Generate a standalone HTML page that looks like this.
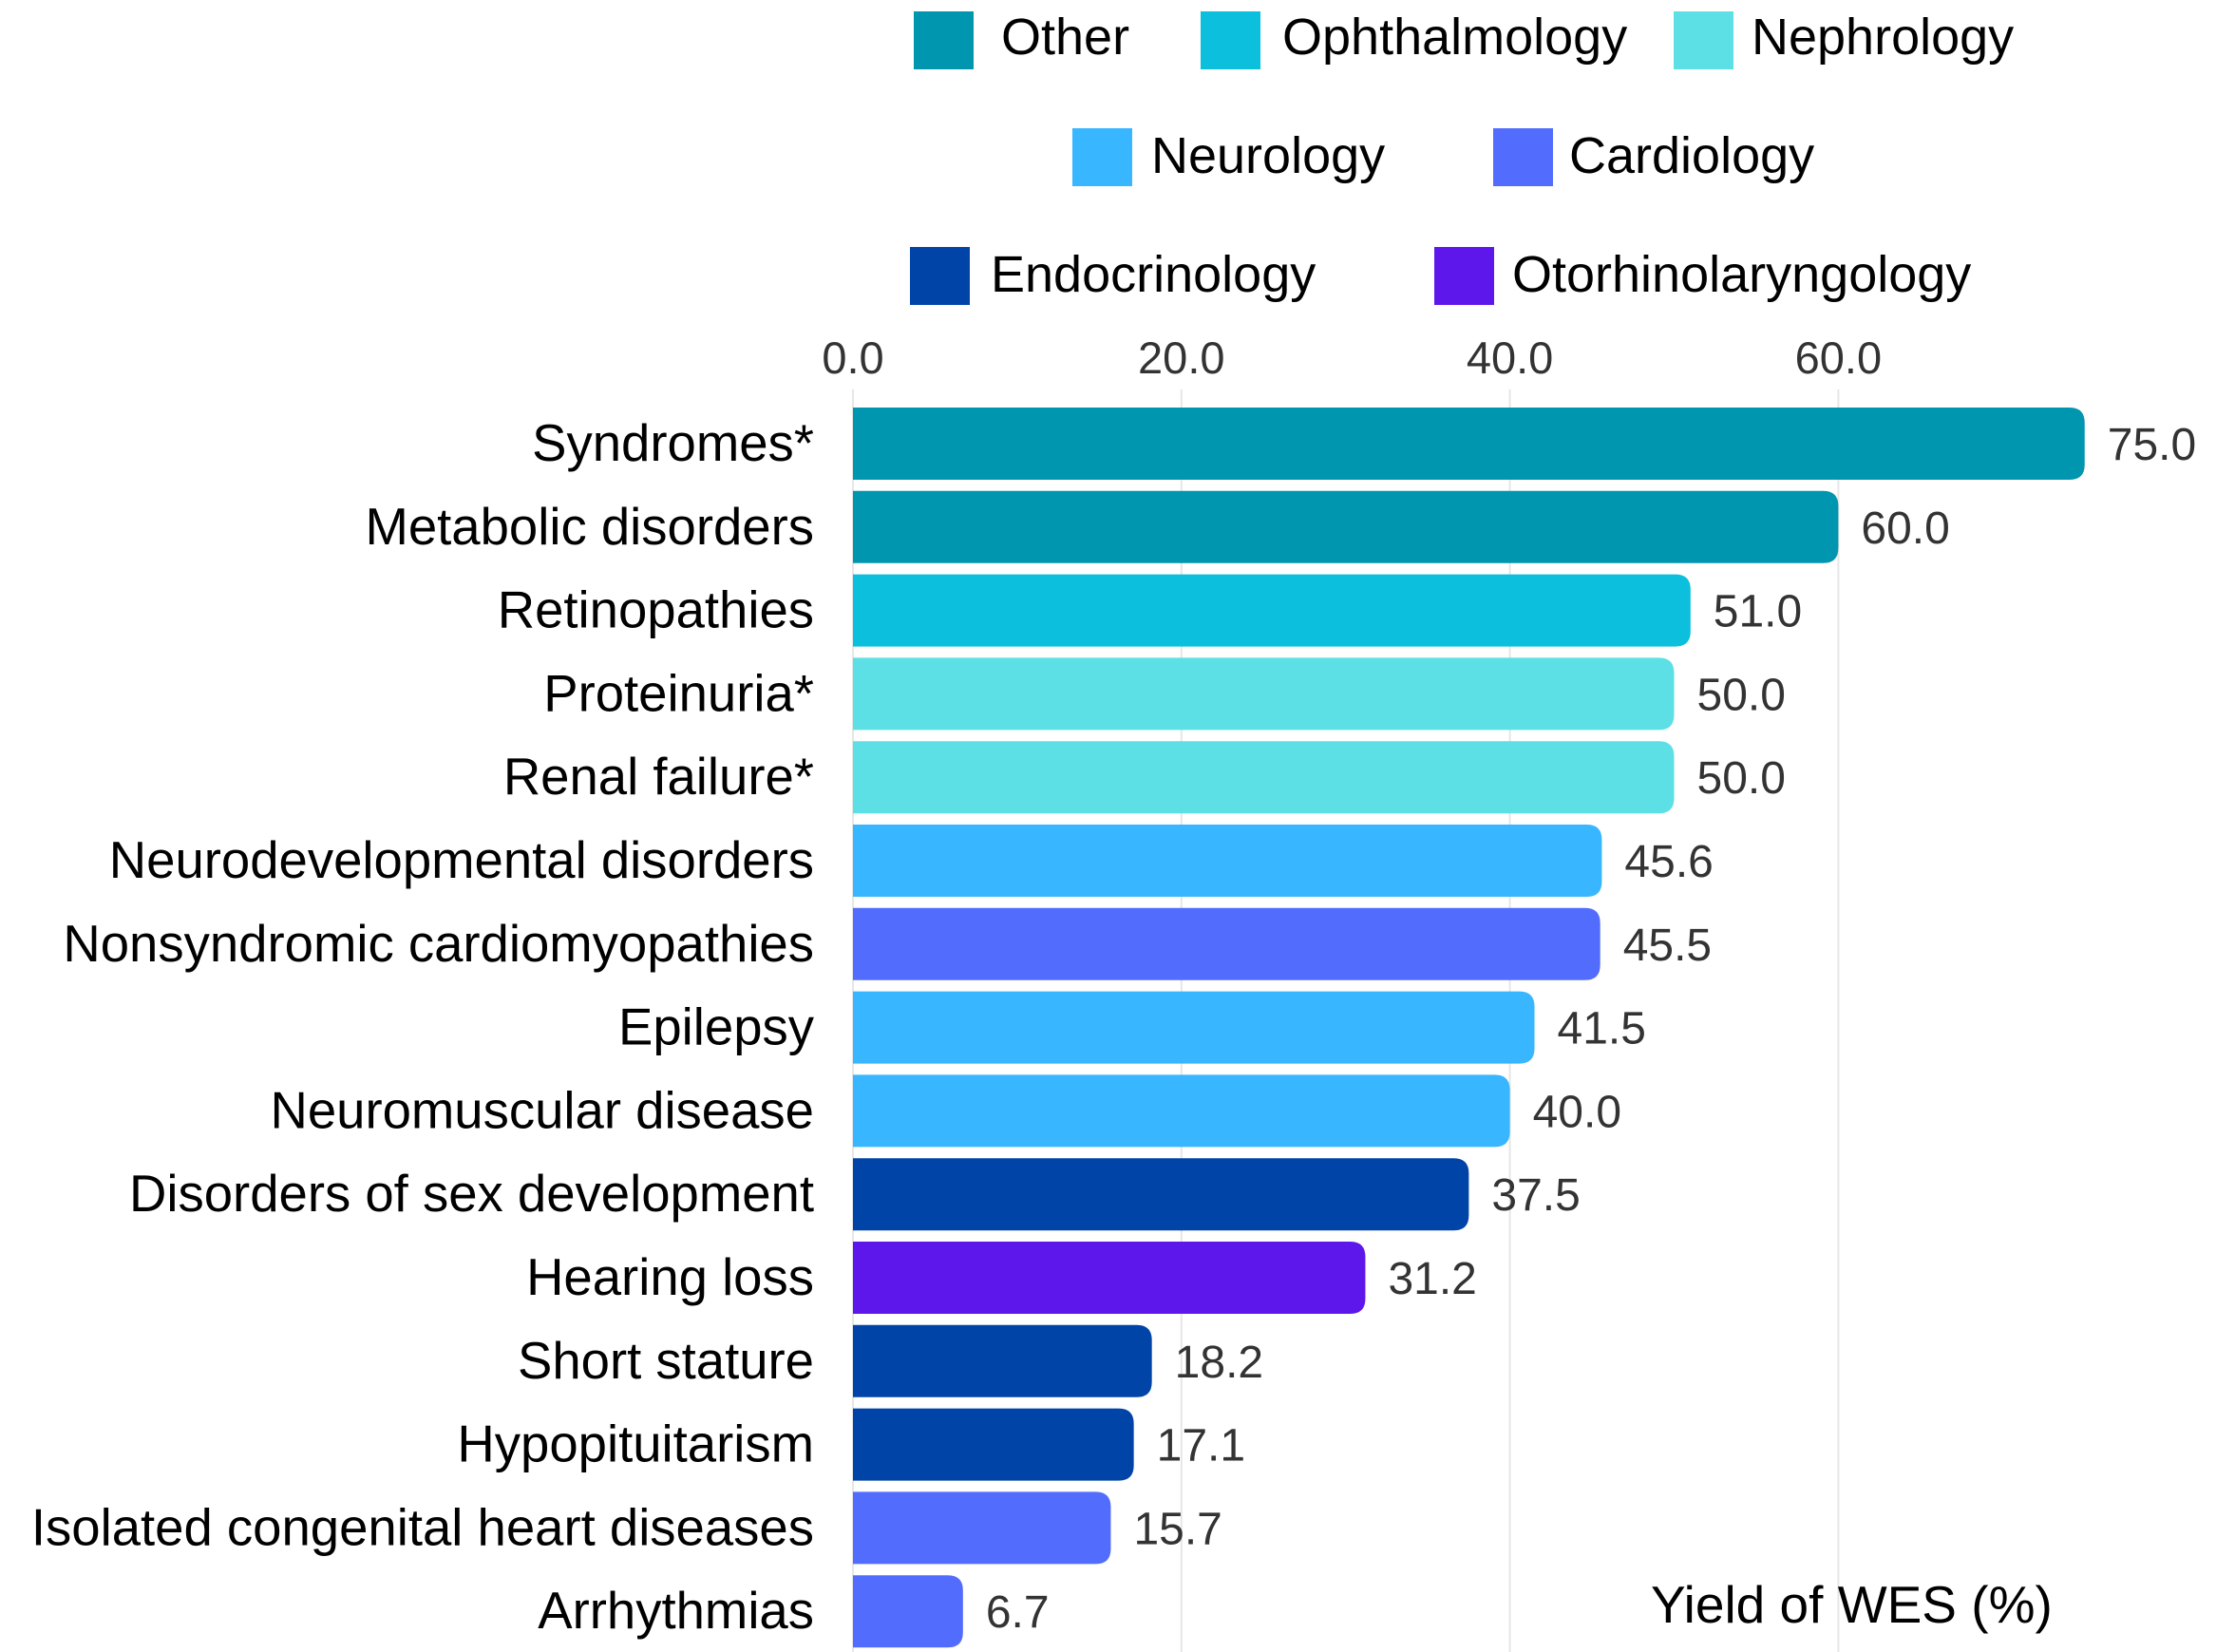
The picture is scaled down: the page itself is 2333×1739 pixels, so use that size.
<!DOCTYPE html>
<html><head><meta charset="utf-8"><style>
html,body{margin:0;padding:0;background:#fff;}
svg{display:block;}
</style></head><body>
<svg id="chart" width="2333" height="1739" viewBox="0 0 2333 1739" xmlns="http://www.w3.org/2000/svg" font-family="'Liberation Sans', sans-serif">
<g id="legend"></g>
<g id="grid"></g>
<g id="ticks"></g>
<g id="bars"></g>
<text x="1738" y="1708" font-size="55" fill="#000">Yield of WES (%)</text>
</svg>
<script>
const categories = ["Syndromes*","Metabolic disorders","Retinopathies","Proteinuria*","Renal failure*","Neurodevelopmental disorders","Nonsyndromic cardiomyopathies","Epilepsy","Neuromuscular disease","Disorders of sex development","Hearing loss","Short stature","Hypopituitarism","Isolated congenital heart diseases","Arrhythmias"];
const values = [75.0,60.0,51.0,50.0,50.0,45.6,45.5,41.5,40.0,37.5,31.2,18.2,17.1,15.7,6.7];
const groups = ["Other","Other","Ophthalmology","Nephrology","Nephrology","Neurology","Cardiology","Neurology","Neurology","Endocrinology","Otorhinolaryngology","Endocrinology","Endocrinology","Cardiology","Cardiology"];
const tickValues = [0,20,40,60];
const tickLabels = ["0.0","20.0","40.0","60.0"];
const groupNames = ["Other","Ophthalmology","Nephrology","Neurology","Cardiology","Endocrinology","Otorhinolaryngology"];
const groupColors = {"Other":"#0096b0","Ophthalmology":"#0bbfdd","Nephrology":"#5ce0e6","Neurology":"#38b6ff","Cardiology":"#526dfe","Endocrinology":"#0044a8","Otorhinolaryngology":"#5e17eb"};
const legendPos = [[962,12,1054,57],[1264,12,1350,57],[1762,12,1844,57],[1129,135,1212,182],[1572,135,1652,182],[958,260,1043,307],[1510,260,1592,307]];

const NS="http://www.w3.org/2000/svg";
const x0=898, pxPerUnit=17.29;
const xScale=v=>x0+v*pxPerUnit;
const yTop=i=>429+i*87.8;
const barH=76;
function mk(tag,attrs,parent){const e=document.createElementNS(NS,tag);for(const k in attrs)e.setAttribute(k,attrs[k]);parent.appendChild(e);return e;}

const lg=document.getElementById('legend');
groupNames.forEach((g,i)=>{
  const p=legendPos[i];
  const r=mk('rect',{x:p[0],y:p[1],width:63,height:61,fill:groupColors[g]},lg);
  
  
  const t=mk('text',{x:p[2],y:p[3],'font-size':54,fill:'#000'},lg);
  t.textContent=g;
  
  
});

const gg=document.getElementById('grid');
const tg=document.getElementById('ticks');
tickValues.forEach((v,i)=>{
  const x=xScale(v);
  const l=mk('line',{x1:x,x2:x,y1:410,y2:1739,stroke:'#e6e6e6','stroke-width':2},gg);
  
  
  const t=mk('text',{x:x,y:393,'font-size':47,fill:'#333','text-anchor':'middle'},tg);
  t.textContent=tickLabels[i];
  
  
});

const bg=document.getElementById('bars');
categories.forEach((c,i)=>{
  const y=yTop(i), w=xScale(values[i])-x0, r=16;
  const d=`M${x0},${y} H${x0+w-r} Q${x0+w},${y} ${x0+w},${y+r} V${y+barH-r} Q${x0+w},${y+barH} ${x0+w-r},${y+barH} H${x0} Z`;
  const b=mk('path',{d:d,fill:groupColors[groups[i]]},bg);
  
  
  const lab=mk('text',{x:857,y:y+barH/2+18,'font-size':54.5,fill:'#000','text-anchor':'end'},bg);
  lab.textContent=c;
  
  
  const vl=mk('text',{x:x0+w+24,y:y+barH/2+17,'font-size':48,fill:'#333'},bg);
  vl.textContent=values[i].toFixed(1);
  
  
});
</script>
</body></html>
